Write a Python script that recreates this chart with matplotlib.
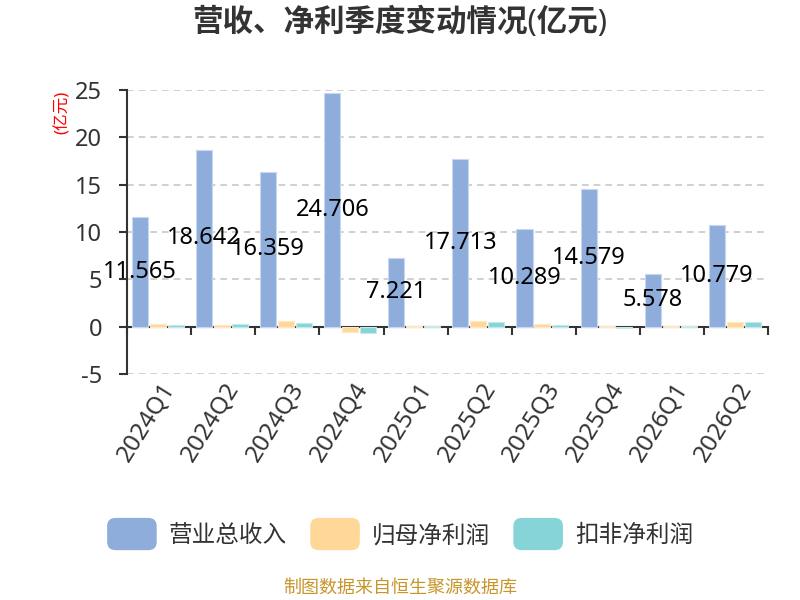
import numpy as np
import matplotlib.pyplot as plt
from matplotlib.patches import FancyBboxPatch
from matplotlib.legend_handler import HandlerPatch

plt.rcParams['font.family'] = ['Noto Sans', 'Noto Sans CJK SC', 'DejaVu Sans']
plt.rcParams['axes.unicode_minus'] = False

# data (亿元)
quarters = ['2024Q1', '2024Q2', '2024Q3', '2024Q4', '2025Q1',
            '2025Q2', '2025Q3', '2025Q4', '2026Q1', '2026Q2']
revenue = [11.565, 18.642, 16.359, 24.706, 7.221, 17.713, 10.289, 14.579, 5.578, 10.779]
net_profit = [0.30, 0.20, 0.60, -0.60, 0.03, 0.60, 0.25, 0.10, 0.03, 0.45]
deducted_profit = [0.15, 0.25, 0.42, -0.70, 0.02, 0.45, 0.18, -0.15, 0.02, 0.45]
series_names = ['营业总收入', '归母净利润', '扣非净利润']

colors = ['#8eaddb', '#ffd899', '#87d4d8']
edges = ['#c9d8f0', '#ffe9c4', '#c4eaec']

fig = plt.figure(figsize=(8, 6), dpi=100)
ax = fig.add_axes([0.159, 0.377, 0.801, 0.473])

x = np.arange(len(quarters))
width = 0.25
offsets = [-0.3, -0.02, 0.26]
bars = []
for vals, off, c, ec, name in zip([revenue, net_profit, deducted_profit], offsets,
                                  colors, edges, series_names):
    b = ax.bar(x + off, vals, width, color=c, edgecolor=ec, linewidth=0.8,
               label=name, zorder=3)
    bars.append(b)

# value labels on revenue bars, centred at half height
for xi, v in zip(x, revenue):
    ax.text(xi + offsets[0], v / 2, f'{v:.3f}', ha='center', va='center',
            fontsize=17, color='black', zorder=5)

ax.set_xlim(-0.5, len(quarters) - 0.5)
ax.set_ylim(-5, 25)
ax.set_yticks([-5, 0, 5, 10, 15, 20, 25])
ax.grid(axis='y', linestyle=(0, (4, 3)), color='#c8c8c8', linewidth=1.2, zorder=0)

ax.spines['top'].set_visible(False)
ax.spines['right'].set_visible(False)
ax.spines['bottom'].set_position(('data', 0))
ax.spines['left'].set_color('#333333')
ax.spines['bottom'].set_color('#333333')
ax.spines['left'].set_linewidth(1.5)
ax.spines['bottom'].set_linewidth(1.5)

# ticks at group boundaries, labels at group centres
ax.set_xticks(np.arange(len(quarters) + 1) - 0.5)
ax.set_xticklabels([])
ax.tick_params(axis='x', which='major', length=6, width=1.5, color='#333333')
ax.tick_params(axis='y', length=6, width=1.5, color='#333333',
               labelsize=17, labelcolor='#333333', pad=12)
for xi, q in zip(x, quarters):
    ax.text(xi + 0.02, -5.5, q, rotation=58, ha='right', va='top',
            rotation_mode='anchor', fontsize=17.5, color='#333333')

ax.text(-0.1, 0.92, '(亿元)', transform=ax.transAxes, rotation=90,
        ha='center', va='center', fontsize=12, color='red')

fig.text(0.5, 0.962, '营收、净利季度变动情况(亿元)', ha='center', va='center',
         fontsize=22, fontweight='bold', color='#333333')


class RoundHandler(HandlerPatch):
    def create_artists(self, legend, orig_handle, xdescent, ydescent,
                       width, height, fontsize, trans):
        p = FancyBboxPatch((-xdescent, -ydescent - 4), width, height + 8,
                           boxstyle='round,pad=0,rounding_size=6',
                           facecolor=orig_handle.get_facecolor(),
                           edgecolor='none', transform=trans)
        return [p]


handles = [b.patches[0] for b in bars]
fig.legend(handles, series_names, loc='center', bbox_to_anchor=(0.5, 0.107),
           ncol=3, frameon=False, fontsize=17, handlelength=2.1,
           handleheight=1.0, columnspacing=1.0, handletextpad=0.5,
           labelcolor='#333333',
           handler_map={h: RoundHandler() for h in handles})

fig.text(0.5, 0.02, '制图数据来自恒生聚源数据库', ha='center', va='center',
         fontsize=13, color='#c8952a')

fig.savefig('out.png', dpi=100)
